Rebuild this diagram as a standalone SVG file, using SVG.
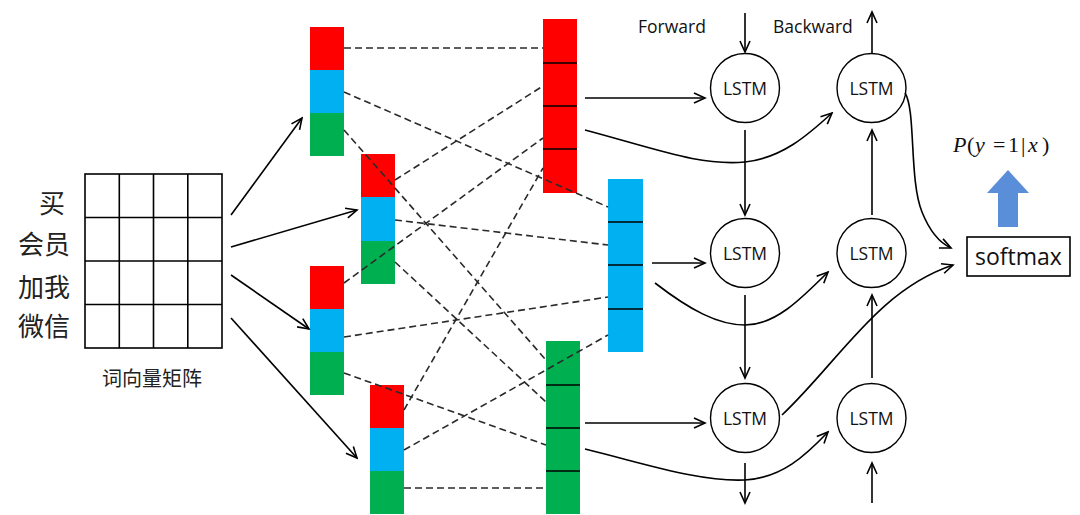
<svg xmlns="http://www.w3.org/2000/svg" width="1080" height="515" viewBox="0 0 1080 515">
<style>
.cjk{font-family:"Noto Sans CJK SC","Noto Sans",sans-serif;fill:#222}
.lbl{font-family:"Open Sans","Liberation Sans",sans-serif;fill:#111}
.r{fill:#FF0000}.b{fill:#00B0F0}.g{fill:#00B050}
.div{stroke:#000;stroke-width:1.5}
.grid{fill:none;stroke:#000;stroke-width:1.6}
.dash{fill:none;stroke:#2a2a2a;stroke-width:1.6;stroke-dasharray:7 4}
.arr{fill:none;stroke:#000;stroke-width:1.6;marker-end:url(#ah)}
</style>
<defs>
<marker id="ah" markerUnits="userSpaceOnUse" markerWidth="14" markerHeight="14" viewBox="-12 -7 14 14" refX="0" refY="0" orient="auto">
<path d="M-11,-5 L0,0 L-11,5" fill="none" stroke="#000" stroke-width="1.6"/>
</marker>
</defs>
<rect width="1080" height="515" fill="#fff"/>

<g id="words">
<text class="cjk" x="39" y="213" font-size="26">买</text>
<text class="cjk" x="18" y="254" font-size="26">会员</text>
<text class="cjk" x="18" y="297" font-size="26">加我</text>
<text class="cjk" x="18" y="336" font-size="26">微信</text>
</g>

<g id="matrix">
<rect class="grid" x="85" y="174" width="137" height="174"/>
<path class="grid" d="M119.3,174V348M153.5,174V348M187.8,174V348M85,217.5H222M85,261H222M85,304.5H222"/>
<text class="cjk" x="152" y="386" font-size="20" text-anchor="middle">词向量矩阵</text>
</g>

<g id="word-vec-1">
<rect class="r" x="310" y="27" width="34" height="43"/>
<rect class="b" x="310" y="70" width="34" height="43"/>
<rect class="g" x="310" y="113" width="34" height="43"/>
</g>
<g id="word-vec-2">
<rect class="r" x="361" y="154" width="34" height="43"/>
<rect class="b" x="361" y="197" width="34" height="44"/>
<rect class="g" x="361" y="241" width="34" height="43"/>
</g>
<g id="word-vec-3">
<rect class="r" x="310" y="266" width="34" height="43"/>
<rect class="b" x="310" y="309" width="34" height="43"/>
<rect class="g" x="310" y="352" width="34" height="43"/>
</g>
<g id="word-vec-4">
<rect class="r" x="370" y="385" width="34" height="43"/>
<rect class="b" x="370" y="428" width="34" height="43"/>
<rect class="g" x="370" y="471" width="34" height="43"/>
</g>

<g id="red-seq">
<rect class="r" x="543" y="19" width="34" height="174"/>
<path class="div" d="M543,63H577M543,106H577M543,149H577"/>
</g>
<g id="blue-seq">
<rect class="b" x="608" y="179" width="35" height="173"/>
<path class="div" d="M608,222H643M608,265H643M608,309H643"/>
</g>
<g id="green-seq">
<rect class="g" x="546" y="341" width="34" height="173"/>
<path class="div" d="M546,385H580M546,428H580M546,471H580"/>
</g>

<g id="lstm-f1"><circle cx="745" cy="88" r="34.5" fill="#fff" stroke="#000" stroke-width="1.4"/><text class="lbl" x="745" y="94.5" font-size="17.5" text-anchor="middle">LSTM</text></g>
<g id="lstm-b1"><circle cx="871.5" cy="88" r="34.5" fill="#fff" stroke="#000" stroke-width="1.4"/><text class="lbl" x="871.5" y="94.5" font-size="17.5" text-anchor="middle">LSTM</text></g>
<g id="lstm-f2"><circle cx="745" cy="253" r="34.5" fill="#fff" stroke="#000" stroke-width="1.4"/><text class="lbl" x="745" y="259.5" font-size="17.5" text-anchor="middle">LSTM</text></g>
<g id="lstm-b2"><circle cx="871.5" cy="253" r="34.5" fill="#fff" stroke="#000" stroke-width="1.4"/><text class="lbl" x="871.5" y="259.5" font-size="17.5" text-anchor="middle">LSTM</text></g>
<g id="lstm-f3"><circle cx="745" cy="418" r="34.5" fill="#fff" stroke="#000" stroke-width="1.4"/><text class="lbl" x="745" y="424.5" font-size="17.5" text-anchor="middle">LSTM</text></g>
<g id="lstm-b3"><circle cx="871.5" cy="418" r="34.5" fill="#fff" stroke="#000" stroke-width="1.4"/><text class="lbl" x="871.5" y="424.5" font-size="17.5" text-anchor="middle">LSTM</text></g>

<g id="direction-labels">
<text class="lbl" x="638" y="33" font-size="17.5">Forward</text>
<text class="lbl" x="773" y="33" font-size="17.5">Backward</text>
</g>

<g id="softmax">
<rect x="967" y="237" width="103" height="39" fill="#fff" stroke="#000" stroke-width="1.6"/>
<text class="lbl" x="1018.5" y="265" font-size="23" text-anchor="middle">softmax</text>
</g>

<g id="output">
<polygon points="1008,170 1029,193 1018,193 1018,227 998,227 998,193 987,193" fill="#5B8ED8"/>
<text font-family="'Liberation Serif',serif" font-size="22" y="152" fill="#111"><tspan x="953" font-style="italic">P</tspan><tspan x="967">(</tspan><tspan x="975" font-style="italic">y</tspan><tspan x="993">=</tspan><tspan x="1008">1</tspan><tspan x="1021">|</tspan><tspan x="1028" font-style="italic">x</tspan><tspan x="1042">)</tspan></text>
</g>

<g id="connectors">
<path class="arr" d="M231,215L302,118"/>
<path class="arr" d="M231,247L357,210"/>
<path class="arr" d="M231,275L309,329"/>
<path class="arr" d="M231,318L357,458"/>

<path class="dash" d="M344,48H543"/>
<path class="dash" d="M395,180L543,86"/>
<path class="dash" d="M344,283L543,138"/>
<path class="dash" d="M404,410L543,168"/>
<path class="dash" d="M344,92L608,207"/>
<path class="dash" d="M395,220L608,245"/>
<path class="dash" d="M344,337L608,297"/>
<path class="dash" d="M404,450L608,335"/>
<path class="dash" d="M344,130L546,360"/>
<path class="dash" d="M395,262L546,402"/>
<path class="dash" d="M344,373L546,445"/>
<path class="dash" d="M404,488H546"/>

<path class="arr" d="M745,13V52"/>
<path class="arr" d="M872,53V12"/>
<path class="arr" d="M745,130V215"/>
<path class="arr" d="M872,215V130"/>
<path class="arr" d="M745,295V378"/>
<path class="arr" d="M872,378V295"/>
<path class="arr" d="M745,463V503"/>
<path class="arr" d="M872,503V463"/>

<path class="arr" d="M585,98H705"/>
<path class="arr" d="M652,263H705"/>
<path class="arr" d="M585,423H705"/>

<path class="arr" d="M585,130C660,150 700,166 745,162C782,158 808,135 832,113"/>
<path class="arr" d="M655,283C690,310 718,325 745,325C775,325 800,300 828,272"/>
<path class="arr" d="M585,449C650,465 700,482 745,480C782,478 806,455 828,432"/>

<path class="arr" d="M905,93C916,110 909,180 922,212C930,232 940,243 951,248"/>
<path class="arr" d="M782,415C840,360 878,290 953,265"/>
</g>
</svg>
